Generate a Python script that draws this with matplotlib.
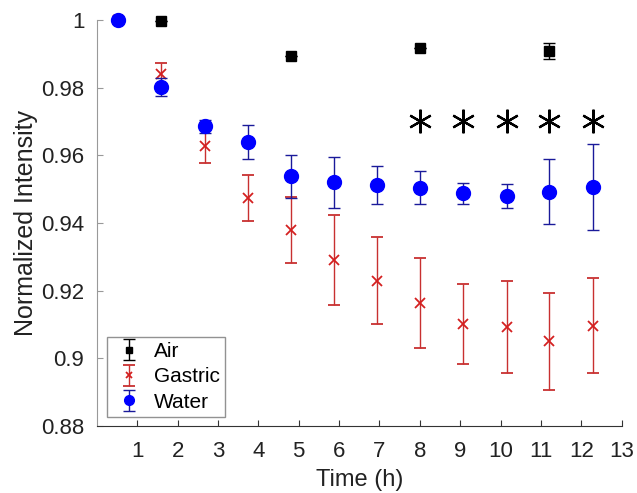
import matplotlib
matplotlib.use("Agg")
import matplotlib.pyplot as plt

plt.rcParams["font.family"] = ["Liberation Sans", "DejaVu Sans"]

# time points (h)
times = [0.53, 1.6, 2.67, 3.74, 4.8, 5.87, 6.94, 8.01, 9.08, 10.15, 11.2, 12.28]

water = [1.0, 0.9803, 0.9686, 0.9641, 0.9538, 0.9521, 0.9513, 0.9505, 0.9488, 0.948, 0.9493, 0.9507]
water_err = [0.0, 0.0027, 0.002, 0.005, 0.0064, 0.0075, 0.0057, 0.0049, 0.0032, 0.0036, 0.0097, 0.0127]

gastric = [1.0, 0.984, 0.9627, 0.9475, 0.9379, 0.9291, 0.923, 0.9164, 0.9102, 0.9092, 0.905, 0.9097]
gastric_err = [0.0, 0.0034, 0.005, 0.0068, 0.0097, 0.0134, 0.0129, 0.0134, 0.0119, 0.0136, 0.0144, 0.014]

air_times = [1.6, 4.8, 8.01, 11.2]
air = [0.9999, 0.9893, 0.9918, 0.9909]
air_err = [0.0, 0.0, 0.0, 0.0024]

star_times = [8.01, 9.08, 10.15, 11.2, 12.28]
star_y = [0.9701, 0.9701, 0.9701, 0.9701, 0.9701]

fig = plt.figure(figsize=(6.37, 4.93), dpi=100)
ax = fig.add_axes([0.152, 0.136, 0.824, 0.823])

ax.errorbar(air_times, air, yerr=air_err, fmt="s", color="black", ecolor="black",
            markersize=7, capsize=4, elinewidth=1, label="Air", clip_on=False, zorder=3)
ax.errorbar(times, gastric, yerr=gastric_err, fmt="x", color="#d42020", ecolor="#c83030",
            markersize=7, markeredgewidth=1.3, capsize=4, elinewidth=1, label="Gastric",
            clip_on=False, zorder=2)
ax.errorbar(times, water, yerr=water_err, fmt="o", color="#0000ff", ecolor="#1a1a9a",
            markersize=10, capsize=4, elinewidth=1, label="Water", clip_on=False, zorder=4)

ax.plot(star_times, star_y, linestyle="none", marker=(6, 2, 0), markersize=17,
        color="black", markeredgewidth=1.6)

ax.set_xlim(0, 13)
ax.set_ylim(0.88, 1.0)
ax.set_xticks(range(1, 14))
ax.set_yticks([0.88, 0.9, 0.92, 0.94, 0.96, 0.98, 1.0])
ax.set_yticklabels(["0.88", "0.9", "0.92", "0.94", "0.96", "0.98", "1"])

ax.spines["top"].set_visible(False)
ax.spines["right"].set_visible(False)
ax.spines["left"].set_color("#999999")
ax.spines["bottom"].set_color("#333333")
ax.tick_params(direction="in", length=4, labelsize=16, pad=11, colors="#333333",
               labelcolor="#222222")
ax.tick_params(axis="y", colors="#999999", labelcolor="#222222", pad=9)

ax.set_xlabel("Time (h)", fontsize=17, color="#222222", labelpad=5)
ax.set_ylabel("Normalized Intensity", fontsize=18, color="#222222", labelpad=2)

leg = ax.legend(loc="lower left", bbox_to_anchor=(0.012, 0.012), fontsize=15,
                frameon=True, fancybox=False, edgecolor="#777777",
                handlelength=1.6, handletextpad=0.4, borderpad=0.25,
                labelspacing=0.3, borderaxespad=0.2, markerscale=0.7)
leg.get_frame().set_linewidth(1.0)

fig.savefig("out.png", dpi=100)
